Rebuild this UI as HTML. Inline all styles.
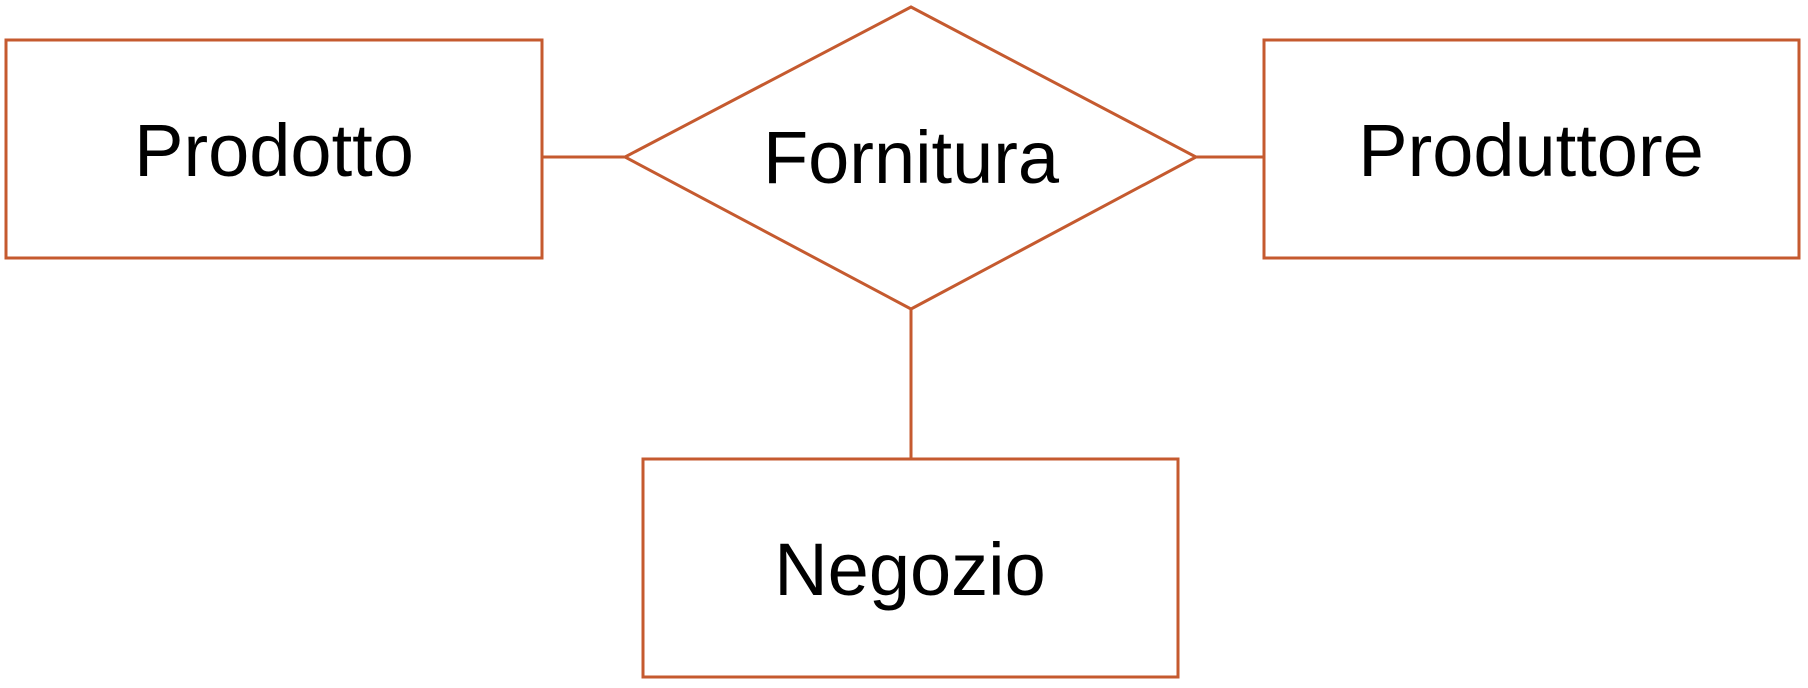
<!DOCTYPE html>
<html><head><meta charset="utf-8"><style>
html,body{margin:0;padding:0;background:#fff;}
svg{display:block;}
text{font-family:"Liberation Sans",sans-serif;font-size:74px;fill:#000;}
</style></head><body>
<svg width="1808" height="688" viewBox="0 0 1808 688" xmlns="http://www.w3.org/2000/svg">
<g fill="none" stroke="#C55A2F" stroke-width="3">
<rect x="6" y="40" width="536" height="218"/>
<rect x="1264" y="40" width="535" height="218"/>
<rect x="643" y="459" width="535" height="218"/>
<polygon points="911,7 1196,157 911,309 625,157"/>
<line x1="542" y1="157" x2="625" y2="157"/>
<line x1="1196" y1="157" x2="1264" y2="157"/>
<line x1="911" y1="309" x2="911" y2="459"/>
</g>
<text x="274" y="176" text-anchor="middle">Prodotto</text>
<text x="911" y="183" text-anchor="middle">Fornitura</text>
<text x="1531" y="176" text-anchor="middle">Produttore</text>
<text x="910" y="595" text-anchor="middle">Negozio</text>
</svg>
</body></html>
